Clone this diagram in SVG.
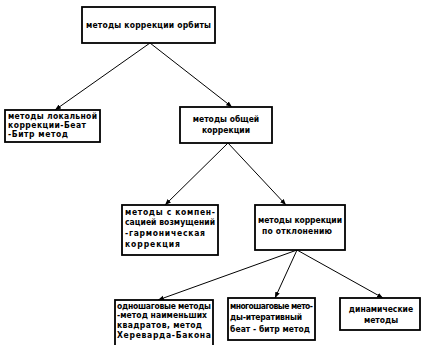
<svg xmlns="http://www.w3.org/2000/svg" width="426" height="345" viewBox="0 0 426 345">
<style>
.b{fill:#fff;stroke:#000;stroke-width:1.8}
.t{font-family:"DejaVu Sans Condensed","DejaVu Sans","Liberation Sans",sans-serif;font-stretch:condensed;font-size:8.5px;font-weight:bold;fill:#000}
.c{fill:none;stroke:#000;stroke-width:1}
</style>
<defs>
<marker id="a" viewBox="0 0 10 10" refX="10" refY="5" markerWidth="6" markerHeight="6" orient="auto" markerUnits="userSpaceOnUse">
<path d="M0,1 L10,5 L0,9 z" fill="#000"/>
</marker>
</defs>
<rect width="426" height="345" fill="#fff"/>
<g id="connectors">
<line class="c" x1="150" y1="43" x2="55" y2="110" marker-end="url(#a)"/>
<line class="c" x1="150" y1="43" x2="232" y2="107" marker-end="url(#a)"/>
<line class="c" x1="228" y1="143" x2="165" y2="205" marker-end="url(#a)"/>
<line class="c" x1="228" y1="143" x2="286" y2="205" marker-end="url(#a)"/>
<line class="c" x1="297" y1="250" x2="158" y2="300" marker-end="url(#a)"/>
<line class="c" x1="297" y1="250" x2="275" y2="298" marker-end="url(#a)"/>
<line class="c" x1="297" y1="250" x2="383" y2="298" marker-end="url(#a)"/>
</g>
<g id="n1"><rect class="b" x="82" y="7" width="133" height="36"/>
<text class="t" x="86" y="28" textLength="125" font-size="9">методы коррекции орбиты</text></g>
<g id="n2"><rect class="b" x="5" y="110" width="95" height="32"/>
<text class="t" x="8" y="119" textLength="89">методы локальной</text>
<text class="t" x="8" y="128" textLength="78">коррекции-Беат</text>
<text class="t" x="8" y="137" textLength="60">-Битр метод</text></g>
<g id="n3"><rect class="b" x="180" y="107" width="92" height="36"/>
<text class="t" x="226" y="122" text-anchor="middle">методы общей</text>
<text class="t" x="226" y="133" text-anchor="middle">коррекции</text></g>
<g id="n4"><rect class="b" x="122" y="205" width="96" height="50"/>
<text class="t" x="125" y="215" textLength="90">методы с компен-</text>
<text class="t" x="125" y="225" textLength="90">сацией возмущений</text>
<text class="t" x="125" y="236" textLength="80">-гармоническая</text>
<text class="t" x="125" y="247" textLength="55">коррекция</text></g>
<g id="n5"><rect class="b" x="255" y="205" width="90" height="45"/>
<text class="t" x="258" y="223" textLength="84">методы коррекции</text>
<text class="t" x="262" y="234" textLength="70">по отклонению</text></g>
<g id="n6"><rect class="b" x="115" y="300" width="98" height="48"/>
<text class="t" x="117" y="309" textLength="94">одношаговые методы</text>
<text class="t" x="117" y="318" textLength="90">-метод наименьших</text>
<text class="t" x="117" y="328" textLength="85">квадратов, метод</text>
<text class="t" x="117" y="338" textLength="94">Хереварда-Бакона</text></g>
<g id="n7"><rect class="b" x="228" y="298" width="87" height="42"/>
<text class="t" x="230" y="309" textLength="83">многошаговые мето-</text>
<text class="t" x="230" y="320" textLength="72">ды-итеративный</text>
<text class="t" x="230" y="332" textLength="80">беат - битр метод</text></g>
<g id="n8"><rect class="b" x="340" y="298" width="80" height="32"/>
<text class="t" x="381" y="312" text-anchor="middle">динамические</text>
<text class="t" x="381" y="323" text-anchor="middle">методы</text></g>
</svg>
